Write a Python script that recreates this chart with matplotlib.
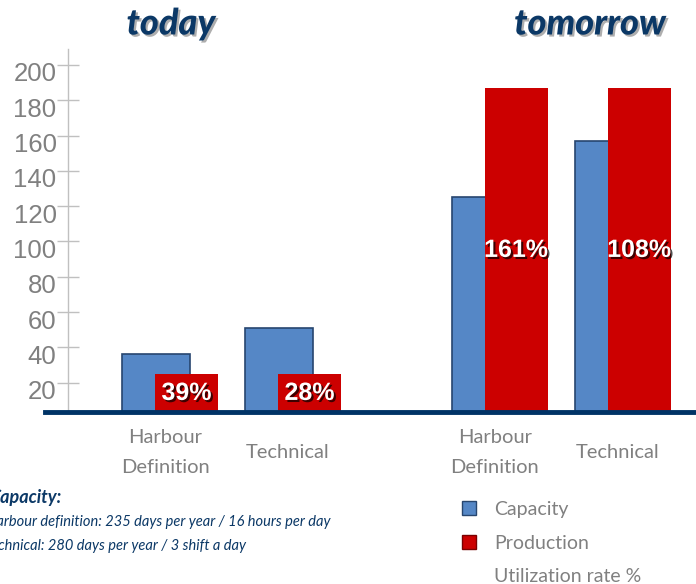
import matplotlib.pyplot as plt
import matplotlib.patheffects as pe
from matplotlib.patches import Patch
from matplotlib.transforms import ScaledTranslation

categories = ["Harbour\nDefinition", "Technical", "Harbour\nDefinition", "Technical"]
capacity = [36, 51, 125, 157]
production = [25, 25, 187, 187]
utilization = ["39%", "28%", "161%", "108%"]
yticks = [20, 40, 60, 80, 100, 120, 140, 160, 180, 200]

blue = "#5587C6"
red = "#CC0000"
navy = "#0B3866"
gray = "#808080"

positions = [0, 1, 2.68, 3.68]
ylow = 3.4

fig = plt.figure(figsize=(6.96, 5.84), dpi=100)
ax = fig.add_axes([68 / 696, 1 - 412 / 584, 628 / 696, 363 / 584])

cap_x = [p - 0.39 for p in positions]
prod_x = [p - 0.122 for p in positions]
ax.bar(cap_x, capacity, width=0.553, align="edge", color=blue, edgecolor="#27466F", linewidth=1.2, zorder=2)
ax.bar(prod_x, production, width=0.512, align="edge", color=red, linewidth=0, zorder=3)

shadow = [pe.withSimplePatchShadow(offset=(1.5, -1.5), shadow_rgbFace="black", alpha=0.7)]
for i in range(len(positions)):
    ax.text(prod_x[i] + 0.256, (production[i] + ylow) / 2, utilization[i], ha="center", va="center",
            color="white", fontsize=18, fontweight="bold", family="Liberation Sans",
            path_effects=shadow, zorder=4)

ax.set_xlim(-0.829, 4.276)
ax.set_ylim(ylow, 209)
ax.set_yticks(yticks)
ax.set_xticks([])
ax.tick_params(axis="y", direction="inout", length=16.5, width=1, color="#C0C0C0",
               labelcolor=gray, labelsize=18.5, pad=0)
down = ScaledTranslation(0, -7 / 100, fig.dpi_scale_trans)
for tick in ax.yaxis.get_major_ticks():
    tick.label1.set_family("Liberation Sans")
    tick.label1.set_transform(tick.label1.get_transform() + down)
for s in ["top", "right", "bottom"]:
    ax.spines[s].set_visible(False)
ax.spines["left"].set_color("#C0C0C0")
ax.spines["left"].set_linewidth(1)

# thick baseline
ax.plot([-0.037, 1], [0, 0], transform=ax.transAxes, color="#003366", linewidth=3.5, clip_on=False, zorder=5)

for i in range(len(positions)):
    ax.text(positions[i] - 0.04, -0.112, categories[i], transform=ax.get_xaxis_transform(), ha="center",
            va="center", color=gray, fontsize=14.5, family="Lato", linespacing=1.88)

title_shadow = [pe.withSimplePatchShadow(offset=(1.5, -1.5), shadow_rgbFace="#9A9A9A", alpha=0.8)]
fig.text(171 / 696, 1 - 24 / 584, "today", ha="center", va="center", color=navy, fontsize=26,
         fontweight="black", style="italic", family="Lato", path_effects=title_shadow)
fig.text(590 / 696, 1 - 24 / 584, "tomorrow", ha="center", va="center", color=navy, fontsize=26,
         fontweight="black", style="italic", family="Lato", path_effects=title_shadow)

fig.text(62 / 696, 1 - 497 / 584, "Capacity:", ha="right", va="center", color=navy, fontsize=13,
         fontweight="bold", style="italic", family="Lato")
fig.text(330 / 696, 1 - 522 / 584, "Harbour definition: 235 days per year / 16 hours per day", ha="right",
         va="center", color=navy, fontsize=10.5, style="italic", family="Lato")
fig.text(246 / 696, 1 - 546 / 584, "Technical: 280 days per year / 3 shift a day", ha="right",
         va="center", color=navy, fontsize=10.5, style="italic", family="Lato")

handles = [Patch(facecolor=blue, edgecolor="#27466F"), Patch(facecolor=red, edgecolor="#7A0000"),
           Patch(facecolor="none", edgecolor="none")]
leg = fig.legend(handles, ["Capacity", "Production", "Utilization rate %"], loc="upper left",
                 bbox_to_anchor=(462 / 696, 1 - 501 / 584), frameon=False, fontsize=14,
                 handlelength=0.72, handleheight=0.72, handletextpad=0.95, labelspacing=0.85,
                 borderpad=0, borderaxespad=0)
for t in leg.get_texts():
    t.set_color(gray)
    t.set_family("Lato")

fig.savefig("out.png", dpi=100)
